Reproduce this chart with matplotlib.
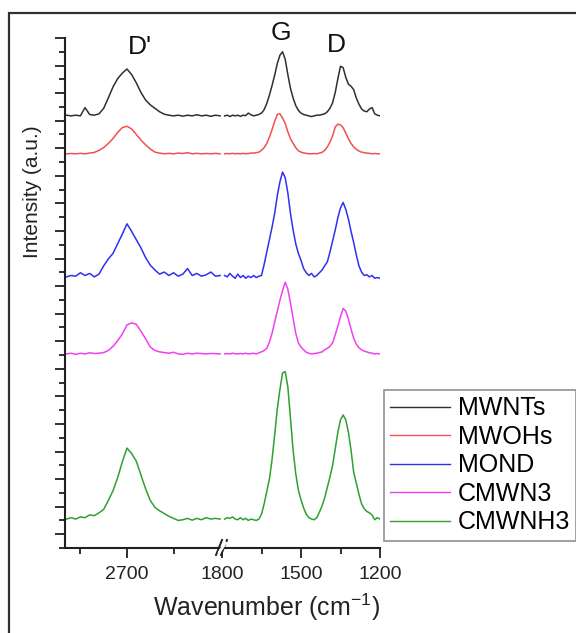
import matplotlib
matplotlib.use("Agg")
import matplotlib.pyplot as plt
from matplotlib.patches import Rectangle
from matplotlib.lines import Line2D
from matplotlib.ticker import FixedLocator

plt.rcParams['font.family'] = ['Liberation Sans', 'DejaVu Sans']
plt.rcParams['mathtext.fontset'] = 'custom'
plt.rcParams['mathtext.rm'] = 'Liberation Sans'
plt.rcParams['mathtext.it'] = 'Liberation Sans'

# ---------------- data ----------------
names = ["MWNTs", "MWOHs", "MOND", "CMWN3", "CMWNH3"]
colors = ["#303030", "#f05050", "#3030f0", "#f040f0", "#30a030"]
offsets = [31.35, 28.6, 19.67, 14.08, 2.1]

wn_high = [2830, 2820, 2810, 2800, 2790, 2780, 2770, 2760, 2750, 2740, 2730, 2720,
           2710, 2700, 2690, 2680, 2670, 2660, 2650, 2640, 2630, 2620, 2610, 2600,
           2590, 2580, 2570, 2560, 2550, 2540, 2530, 2520, 2510, 2500]
wn_low = [1790, 1780, 1770, 1760, 1750, 1740, 1730, 1720, 1710, 1700, 1690, 1680,
          1670, 1660, 1650, 1640, 1630, 1620, 1610, 1600, 1590, 1580, 1570, 1560,
          1550, 1540, 1530, 1520, 1510, 1500, 1490, 1480, 1470, 1460, 1450, 1440,
          1430, 1420, 1410, 1400, 1390, 1380, 1370, 1360, 1350, 1340, 1330, 1320,
          1310, 1300, 1290, 1280, 1270, 1260, 1250, 1240, 1230, 1220, 1210, 1200]

mwnts_high = [0.05, 0.0, 0.05, 0.0, 0.6, 0.1, 0.05, 0.15, 0.55, 1.3, 2.1, 2.7,
              3.1, 3.4, 3.0, 2.4, 1.7, 1.15, 0.8, 0.55, 0.3, 0.12, 0.05, 0.0,
              0.05, -0.02, 0.05, 0.0, 0.08, 0.0, 0.05, -0.03, 0.05, 0.0]
mwnts_low = [0.0, 0.05, -0.05, 0.05, 0.0, 0.05, -0.03, 0.05, 0.02, 0.2, 0.08, 0.0,
             0.05, 0.1, 0.2, 0.45, 0.9, 1.5, 2.2, 2.95, 3.8, 4.4, 4.65, 4.1,
             3.0, 2.0, 1.3, 0.75, 0.4, 0.2, 0.1, 0.05, 0.0, -0.05, 0.0, 0.05,
             0.05, 0.1, 0.15, 0.3, 0.55, 0.95, 1.7, 2.7, 3.6, 3.5, 2.8, 2.3,
             2.15, 1.9, 1.3, 0.85, 0.5, 0.35, 0.3, 0.5, 0.6, 0.15, 0.05, 0.0]

mwohs_high = [0.0, 0.02, 0.0, 0.03, 0.0, 0.05, 0.1, 0.25, 0.45, 0.75, 1.1, 1.55,
              1.9, 2.0, 1.8, 1.4, 1.0, 0.65, 0.35, 0.12, 0.05, 0.0, 0.03, 0.0,
              0.05, 0.02, 0.08, 0.0, 0.03, 0.0, 0.02, 0.0, 0.03, 0.0]
mwohs_low = [0.0, 0.02, 0.0, 0.03, 0.0, 0.02, 0.0, 0.03, 0.0, 0.02, 0.05, 0.05,
             0.08, 0.12, 0.25, 0.45, 0.75, 1.2, 1.75, 2.35, 2.85, 2.9, 2.6, 2.2,
             1.6, 1.1, 0.75, 0.45, 0.22, 0.12, 0.06, 0.03, 0.0, 0.0, 0.02, 0.0,
             0.05, 0.1, 0.25, 0.5, 0.85, 1.3, 1.95, 2.15, 2.1, 1.9, 1.5, 1.1,
             0.75, 0.5, 0.33, 0.2, 0.12, 0.08, 0.05, 0.03, 0.0, 0.02, 0.0, 0.0]

mond_high = [0.0, 0.1, 0.05, 0.3, 0.1, 0.25, 0.0, 0.2, 0.8, 1.3, 1.7, 2.4,
             3.1, 3.85, 3.3, 2.7, 2.1, 1.4, 0.85, 0.5, 0.2, 0.35, 0.1, 0.3,
             0.05, 0.2, 0.6, 0.1, 0.25, 0.05, 0.15, 0.35, 0.05, 0.1]
mond_low = [0.1, 0.0, 0.25, 0.05, -0.1, 0.2, -0.05, 0.1, -0.1, 0.05, -0.05, 0.1,
            -0.05, 0.05, 0.1, 0.9, 1.8, 2.7, 3.6, 4.6, 5.9, 6.9, 7.6, 7.2,
            6.1, 4.6, 3.4, 2.4, 1.7, 1.2, 0.6, 0.3, 0.1, 0.25, 0.0, 0.1,
            0.3, 0.5, 0.8, 1.1, 1.8, 2.6, 3.4, 4.3, 5.0, 5.4, 4.9, 4.2,
            3.3, 2.5, 1.6, 0.8, 0.35, 0.1, 0.15, 0.0, 0.1, -0.1, -0.05, -0.1]

cmwn3_high = [0.0, 0.05, -0.03, 0.05, 0.0, 0.08, 0.03, 0.05, 0.1, 0.25, 0.55, 0.95,
              1.45, 2.1, 2.25, 2.15, 1.65, 1.1, 0.5, 0.25, 0.15, 0.1, 0.05, 0.12,
              0.0, -0.03, 0.05, 0.0, 0.05, 0.03, 0.0, 0.03, 0.02, 0.0]
cmwn3_low = [0.0, 0.03, 0.0, 0.05, 0.02, 0.0, 0.03, 0.0, 0.05, 0.0, 0.02, 0.05,
             0.0, 0.08, 0.15, 0.25, 0.4, 0.85, 1.5, 2.3, 3.1, 3.9, 4.6, 5.2,
             4.7, 3.7, 2.6, 1.5, 0.8, 0.5, 0.3, 0.12, 0.05, 0.0, 0.03, 0.05,
             0.1, 0.15, 0.3, 0.4, 0.55, 0.8, 1.4, 2.0, 2.7, 3.3, 3.1, 2.55,
             1.8, 1.15, 0.7, 0.45, 0.3, 0.2, 0.15, 0.08, 0.05, 0.0, 0.03, 0.0]

cmwnh3_high = [0.0, 0.1, 0.0, 0.15, 0.1, 0.3, 0.25, 0.45, 0.7, 1.35, 2.05, 3.0,
               4.15, 5.15, 4.75, 4.2, 3.2, 2.2, 1.35, 0.85, 0.6, 0.4, 0.2, 0.05,
               -0.1, -0.05, 0.05, -0.08, 0.05, -0.05, 0.1, 0.0, 0.05, 0.0]
cmwnh3_low = [0.0, 0.1, 0.05, 0.15, 0.0, -0.05, 0.1, -0.05, 0.05, -0.1, 0.0, -0.05,
              -0.1, 0.0, 0.35, 1.1, 2.0, 2.9, 4.3, 6.1, 8.0, 9.4, 10.6, 10.7,
              9.6, 7.3, 5.0, 3.3, 2.1, 1.4, 0.8, 0.35, 0.1, 0.0, -0.05, 0.1,
              0.5, 0.95, 1.55, 2.3, 3.05, 3.9, 5.1, 6.3, 7.2, 7.55, 7.2, 6.3,
              5.0, 3.4, 2.6, 1.8, 1.1, 0.75, 0.55, 0.45, 0.3, -0.05, 0.1, 0.0]

high_series = [mwnts_high, mwohs_high, mond_high, cmwn3_high, cmwnh3_high]
low_series = [mwnts_low, mwohs_low, mond_low, cmwn3_low, cmwnh3_low]

peak_labels = ["D'", "G", "D"]
x_ticks_high = [2700]
x_ticks_low = [1800, 1500, 1200]

# ---------------- layout ----------------
W, H = 576, 633
fig = plt.figure(figsize=(W / 100, H / 100), dpi=100)


def fx(px):
    return px / W


def fy(py):
    return 1 - py / H


x0, xb, x1 = 65, 222, 380
ytop, ybot = 38, 548
ax1 = fig.add_axes([fx(x0), fy(ybot), (xb - x0) / W, (ybot - ytop) / H])
ax2 = fig.add_axes([fx(xb), fy(ybot), (x1 - xb) / W, (ybot - ytop) / H], sharey=ax1)

for s, c, off in zip(high_series, colors, offsets):
    ax1.plot(wn_high, [v + off for v in s], color=c, lw=1.1)
for s, c, off in zip(low_series, colors, offsets):
    ax2.plot(wn_low, [v + off for v in s], color=c, lw=1.1)

ax1.set_xlim(2833, 2496)
ax2.set_xlim(1800, 1200)
ax1.set_ylim(0, 37)

spine_c = "#202020"
for ax in (ax1, ax2):
    ax.spines['top'].set_visible(False)
    ax.spines['right'].set_visible(False)
    ax.spines['bottom'].set_linewidth(1.5)
    ax.spines['bottom'].set_color(spine_c)
    ax.spines['left'].set_linewidth(1.5)
    ax.spines['left'].set_color(spine_c)
    ax.set_facecolor('none')
ax2.spines['left'].set_visible(False)

ax1.yaxis.set_major_locator(FixedLocator(list(range(1, 38, 2))))
ax1.yaxis.set_minor_locator(FixedLocator(list(range(0, 38, 2))))
ax1.tick_params(axis='y', which='major', direction='out', length=7, width=1.3,
                color=spine_c, labelleft=False)
ax1.tick_params(axis='y', which='minor', direction='out', length=4.5, width=1.3,
                color=spine_c)
ax2.tick_params(axis='y', which='both', left=False, labelleft=False)

ax1.xaxis.set_major_locator(FixedLocator(x_ticks_high))
ax1.xaxis.set_minor_locator(FixedLocator([2800, 2600]))
ax2.xaxis.set_major_locator(FixedLocator(x_ticks_low))
ax2.xaxis.set_minor_locator(FixedLocator([1650, 1350]))
for ax in (ax1, ax2):
    ax.tick_params(axis='x', which='major', direction='out', length=7, width=1.3,
                   color=spine_c, labelsize=14, pad=6, labelcolor='#222222')
    ax.tick_params(axis='x', which='minor', direction='out', length=4.5, width=1.3,
                   color=spine_c)

fig.text(fx(32), fy(192), "Intensity (a.u.)", fontsize=15, rotation=90,
         ha='center', va='center', color='#222222')

fig.text(fx(267), fy(607), "Wavenumber (cm$^{\\mathregular{-1}}$)", fontsize=18,
         ha='center', va='center', color='#222222')

# peak labels
fig.text(fx(140), fy(47), peak_labels[0], fontsize=19, ha='center', va='center', color='#111111')
fig.text(fx(281), fy(33), peak_labels[1], fontsize=19, ha='center', va='center', color='#111111')
fig.text(fx(336), fy(45), peak_labels[2], fontsize=19, ha='center', va='center', color='#111111')

# break marks on x axis
for dx in [0, 5]:
    fig.add_artist(Line2D([fx(216 + dx), fx(222 + dx)], [fy(555), fy(540)],
                          color=spine_c, lw=1.4))
fig.add_artist(Line2D([fx(219.5), fx(225.5)], [fy(552), fy(543)], color='white', lw=2.0))

# outer frame
fig.add_artist(Rectangle((fx(9), fy(700)), 1.2, fy(13) - fy(700), transform=fig.transFigure,
                         fill=False, edgecolor='#303030', lw=1.6))

# legend
handles = [Line2D([], [], color=c, lw=1.0) for c in colors]
leg = fig.legend(handles, names, loc='upper left', bbox_to_anchor=(fx(384), fy(390)),
                 fontsize=18, frameon=True, fancybox=False, edgecolor='#909090',
                 framealpha=1, handlelength=2.4, handletextpad=0.3, labelspacing=0.18,
                 borderpad=0.25, borderaxespad=0)
leg.get_frame().set_linewidth(1.2)

fig.savefig("out.png", dpi=100)
